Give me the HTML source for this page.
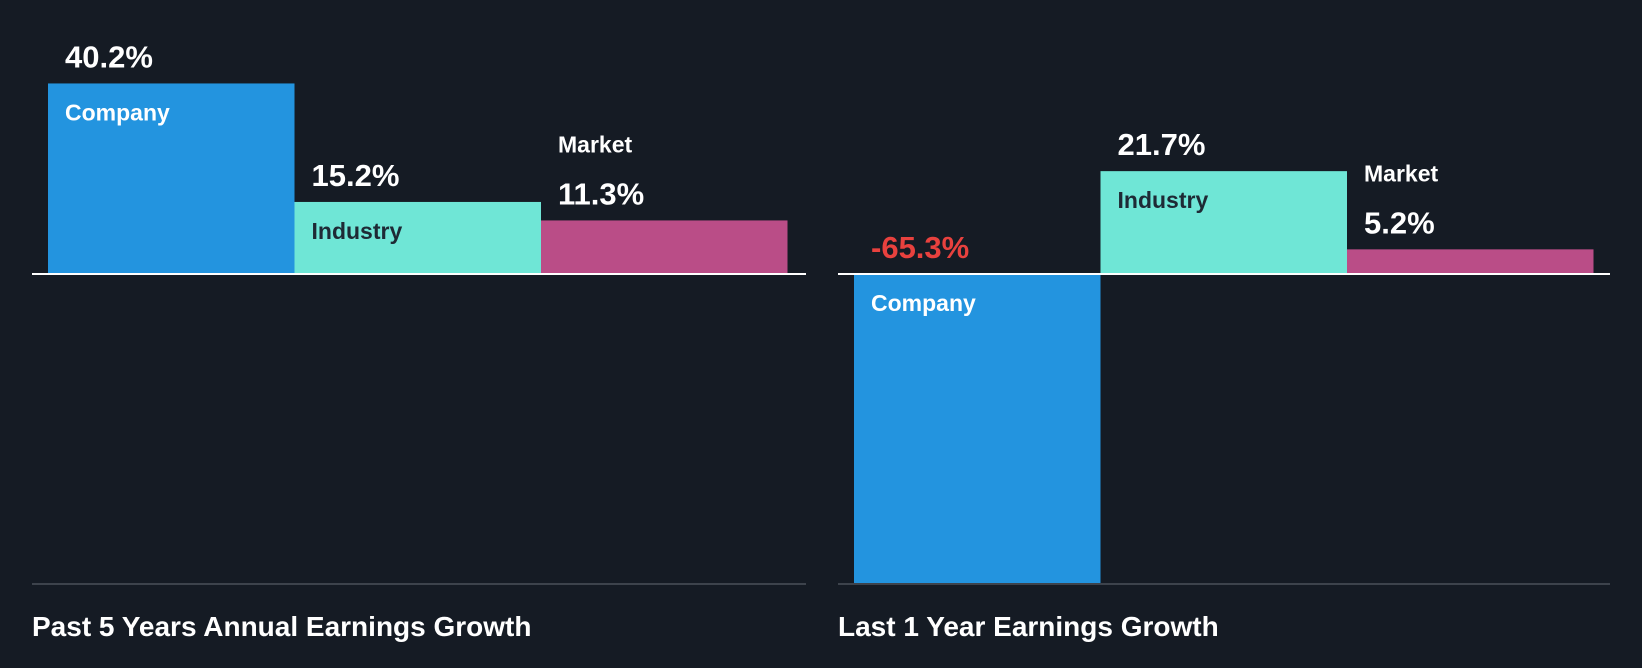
<!DOCTYPE html>
<html><head><meta charset="utf-8"><style>
html,body{margin:0;padding:0;background:#151b24;}
svg{display:block;font-family:"Liberation Sans",sans-serif;font-weight:bold;}
</style></head><body>
<svg id="chart" width="1642" height="668" viewBox="0 0 1642 668">
<rect width="1642" height="668" fill="#151b24"/>
</svg>
<script>
const categories = ["Company", "Industry", "Market"];
const past5Values = [40.2, 15.2, 11.3];
const last1Values = [-65.3, 21.7, 5.2];
const panelTitles = ["Past 5 Years Annual Earnings Growth", "Last 1 Year Earnings Growth"];
const colors = ["#2394df", "#6fe6d6", "#ba4d87"];

const svg = document.getElementById('chart');
const NS = 'http://www.w3.org/2000/svg';
const zeroY = 274, bottomY = 584, pxPer = 4.74;
function yScale(v){ return zeroY - v * pxPer; }
function mk(tag, attrs){ const e = document.createElementNS(NS, tag); for (const k in attrs) e.setAttribute(k, attrs[k]); svg.appendChild(e); return e; }

const panels = [
  {x0: 32, x1: 806, barX: 48, values: past5Values, title: panelTitles[0], key: 'past-5-years'},
  {x0: 838, x1: 1610, barX: 854, values: last1Values, title: panelTitles[1], key: 'last-1-year'}
];
const barW = 246.5;

panels.forEach(p => {
  p.values.forEach((v, i) => {
    const x = p.barX + i * barW;
    const y1 = yScale(Math.max(v, 0)), y2 = yScale(Math.min(v, 0));
    const r = mk('rect', {x: x, y: y1, width: barW, height: y2 - y1, fill: colors[i]});
    
    
    const h = Math.abs(v) * pxPer;
    let valY, nameY, nameFill;
    if (v < 0) { valY = zeroY - 16; nameY = zeroY + 37; nameFill = '#ffffff'; }
    else if (h > 60) { valY = y1 - 16; nameY = y1 + 37; nameFill = i === 1 ? '#1e2a35' : '#ffffff'; }
    else { valY = y1 - 16; nameY = valY - 52; nameFill = '#ffffff'; }
    const vt = mk('text', {x: x + 17, y: valY, fill: v < 0 ? '#e8413e' : '#ffffff', 'font-size': 31});
    vt.textContent = (v < 0 ? '' : '') + v.toFixed(1) + '%';
    
    
    const nt = mk('text', {x: x + 17, y: nameY, fill: nameFill, 'font-size': 23});
    nt.textContent = categories[i];
    
    
  });
  const zl = mk('rect', {x: p.x0, y: zeroY - 1, width: p.x1 - p.x0, height: 2, fill: '#ffffff'});
  
  
  const bl = mk('rect', {x: p.x0, y: bottomY - 1, width: p.x1 - p.x0, height: 2, fill: '#3d434c'});
  
  
  const t = mk('text', {x: p.x0, y: 636, fill: '#ffffff', 'font-size': 28});
  t.textContent = p.title;
  
  
});
</script>
</body></html>
